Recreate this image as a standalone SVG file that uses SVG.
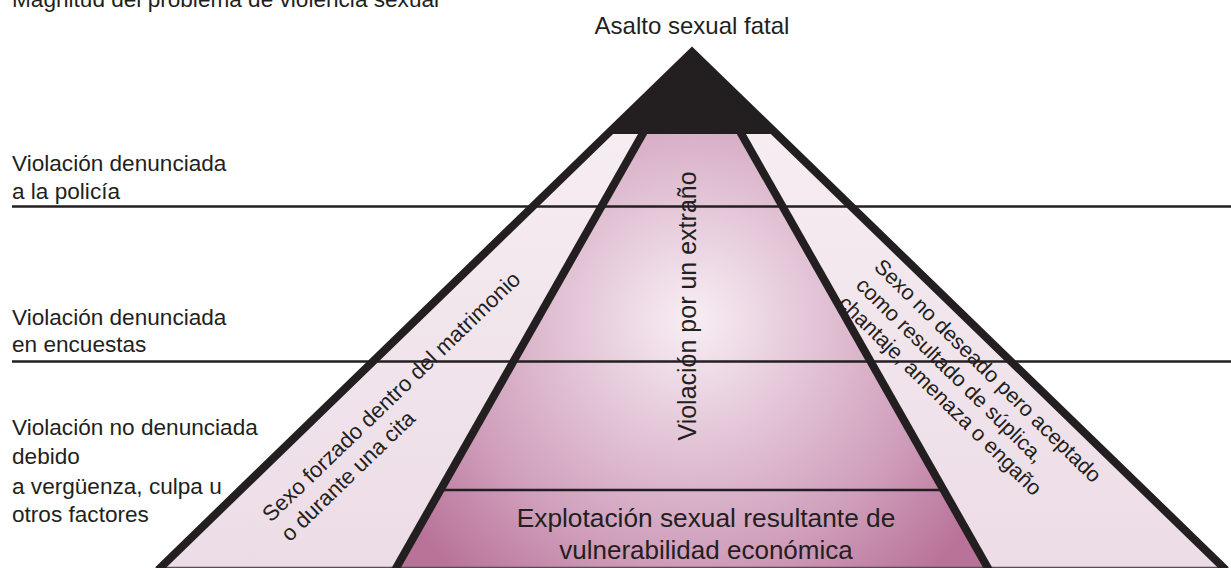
<svg xmlns="http://www.w3.org/2000/svg" width="1231" height="568" viewBox="0 0 1231 568">
<defs>
<style>
text{font-family:"Liberation Sans",Arial,sans-serif;fill:#231f20}
.lbl{font-size:22.6px}
.thick{stroke:#231f20;stroke-width:8;fill:none;stroke-linejoin:miter;stroke-miterlimit:10}
.thin{stroke:#231f20;stroke-width:2.5;fill:none}
</style>
<linearGradient id="wedge" x1="0" y1="130" x2="0" y2="568" gradientUnits="userSpaceOnUse">
<stop offset="0" stop-color="#f6edf2"/>
<stop offset="1" stop-color="#ecdce6"/>
</linearGradient>
<radialGradient id="core" cx="692" cy="320" r="345" gradientUnits="userSpaceOnUse">
<stop offset="0" stop-color="#f8eef4"/>
<stop offset="0.35" stop-color="#e3c5d7"/>
<stop offset="0.7" stop-color="#cf9dba"/>
<stop offset="1" stop-color="#b97399"/>
</radialGradient>
</defs>
<rect width="1231" height="568" fill="#ffffff"/>
<g id="title"><text x="12" y="7" class="lbl">Magnitud del problema de violencia sexual</text></g>
<g id="pyramid">
<g id="wedge-left"><polygon points="609,132 646,132 395,568 160,568" fill="url(#wedge)"/></g>
<g id="core-region"><polygon points="646,130 738,130 989,568 395,568" fill="url(#core)"/></g>
<g id="wedge-right"><polygon points="738,132 775,132 1224,568 989,568" fill="url(#wedge)"/></g>
<g id="apex"><polygon points="692,52 606,134 778,134" fill="#231f20"/></g>
</g>
<g id="connectors">
<line class="thin" x1="12" y1="206.5" x2="1231" y2="206.5"/>
<line class="thin" x1="12" y1="361.5" x2="1231" y2="361.5"/>
<line class="thin" x1="440" y1="490" x2="944" y2="490"/>
<line x1="160" y1="567.5" x2="1224" y2="567.5" stroke="#5a4a55" stroke-width="1.5"/>
<line class="thick" x1="646" y1="128" x2="395" y2="570"/>
<line class="thick" x1="738" y1="128" x2="989" y2="570"/>
<polyline class="thick" points="158,570 692,52 1226,570"/>
</g>
<g id="node-fatal"><text x="692" y="34" font-size="24" text-anchor="middle">Asalto sexual fatal</text></g>
<g id="node-police"><text class="lbl" x="12" y="171">Violación denunciada</text><text class="lbl" x="12" y="199">a la policía</text></g>
<g id="node-surveys"><text class="lbl" x="12" y="325">Violación denunciada</text><text class="lbl" x="12" y="352">en encuestas</text></g>
<g id="node-unreported"><text class="lbl" x="12" y="435">Violación no denunciada</text><text class="lbl" x="12" y="464">debido</text><text class="lbl" x="12" y="494">a vergüenza, culpa u</text><text class="lbl" x="12" y="522">otros factores</text></g>
<g id="node-stranger"><text transform="translate(696,306) rotate(-90)" font-size="25" text-anchor="middle">Violación por un extraño</text></g>
<g id="node-forced"><g transform="translate(271,523) rotate(-44)"><text x="0" y="0" font-size="22">Sexo forzado dentro del matrimonio</text><text x="0" y="27" font-size="22">o durante una cita</text></g></g>
<g id="node-unwanted"><g transform="translate(873,268) rotate(44.5)"><text x="0" y="0" font-size="21.3">Sexo no deseado pero aceptado</text><text x="0" y="26" font-size="21.3">como resultado de súplica,</text><text x="0" y="51" font-size="21.3">chantaje, amenaza o engaño</text></g></g>
<g id="node-exploit"><text x="706" y="527" font-size="26.3" text-anchor="middle">Explotación sexual resultante de</text><text x="706" y="559" font-size="26" text-anchor="middle">vulnerabilidad económica</text></g>
</svg>
